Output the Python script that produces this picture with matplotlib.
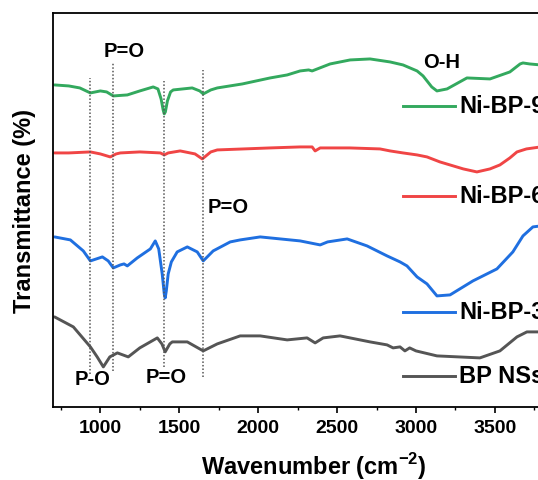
import matplotlib
matplotlib.use("Agg")
import matplotlib.pyplot as plt
import numpy as np

plt.rcParams["font.family"] = ["Liberation Sans", "DejaVu Sans"]
plt.rcParams["font.weight"] = "bold"
plt.rcParams["mathtext.fontset"] = "custom"
plt.rcParams["mathtext.bf"] = "Liberation Sans:bold"
plt.rcParams["mathtext.rm"] = "Liberation Sans:bold"

# FTIR traces (transmittance in arbitrary offset units)
wn_90 = [710, 800, 870, 937, 1000, 1040, 1082, 1171, 1250, 1335, 1365, 1385, 1398, 1405, 1412, 1425,
         1445, 1462, 1582, 1630, 1652, 1700, 1741, 1900, 2076, 2184, 2266, 2320, 2342, 2456, 2583,
         2709, 2836, 2918, 3007, 3045, 3100, 3133, 3197, 3323, 3469, 3595, 3660, 3678, 3720, 3790]
t_90 = [334, 333, 331, 326, 328, 327, 323, 324, 328, 332, 330, 320, 309, 305, 307, 318,
        327, 329, 331, 328, 325, 329, 331, 335, 341, 344, 348, 349, 348, 355, 359,
        360, 357, 354, 348, 343, 332, 328, 330, 341, 340, 347, 355, 356, 355, 354]

wn_60 = [710, 800, 937, 1000, 1063, 1100, 1127, 1250, 1380, 1405, 1430, 1506, 1600, 1646, 1700,
         1741, 2076, 2266, 2342, 2361, 2393, 2580, 2772, 2836, 2918, 3007, 3070, 3152, 3300,
         3386, 3469, 3532, 3595, 3640, 3700, 3790]
t_60 = [266, 266, 267, 265, 262, 265, 266, 267, 266, 264, 266, 268, 265, 260, 267,
        269, 271, 272, 272, 268, 271, 271, 270, 268, 266, 264, 262, 257, 250,
        247, 250, 254, 261, 267, 270, 272]

wn_30 = [710, 810, 892, 937, 1013, 1050, 1082, 1127, 1150, 1171, 1234, 1317, 1348, 1370, 1392,
         1405, 1411, 1418, 1430, 1450, 1487, 1551, 1614, 1652, 1715, 1823, 1886, 2013, 2266, 2361,
         2393, 2440, 2564, 2690, 2817, 2899, 2943, 3007, 3070, 3133, 3216, 3361, 3513, 3614,
         3678, 3741, 3790]
t_30 = [182, 179, 168, 158, 162, 158, 151, 154, 155, 153, 161, 170, 178, 170, 145,
        125, 121, 128, 145, 157, 167, 172, 167, 158, 168, 177, 179, 182, 178, 175,
        174, 177, 180, 173, 163, 157, 153, 142, 135, 123, 124, 138, 150, 167,
        183, 192, 193]

wn_bp = [710, 829, 937, 980, 1019, 1060, 1108, 1177, 1250, 1361, 1390, 1411, 1440, 1456, 1551,
         1652, 1741, 1886, 2013, 2184, 2310, 2361, 2412, 2519, 2709, 2817, 2855, 2899, 2930,
         2960, 3000, 3133, 3405, 3532, 3640, 3703, 3790]
t_bp = [102, 92, 72, 62, 52, 62, 66, 62, 71, 81, 75, 67, 75, 77, 77,
        68, 75, 83, 83, 79, 81, 76, 81, 83, 77, 74, 71, 72, 68,
        71, 68, 63, 61, 68, 82, 87, 87]

series = [("Ni-BP-9", wn_90, t_90, "#33a95e"),
          ("Ni-BP-6", wn_60, t_60, "#f04545"),
          ("Ni-BP-3", wn_30, t_30, "#1f6fe0"),
          ("BP NSs", wn_bp, t_bp, "#555555")]

# dotted guide lines: (wavenumber, y bottom, y top)
guides = [(937, 45, 341), (1082, 48, 356), (1405, 52, 338), (1652, 42, 349)]

fig = plt.figure(figsize=(5.38, 4.81), dpi=100)
ax = fig.add_axes([0.0985, 0.152, 0.968, 0.819])

for lab, x, y, c in series:
    ax.plot(x, y, color=c, lw=2.1, solid_capstyle="round", solid_joinstyle="round")

for g, y0, y1 in guides:
    ax.plot([g, g], [y0, y1], ls=(0, (1, 1.3)), color="#555555", lw=1.1)

ax.text(1152, 368, "P=O", fontsize=14.5, fontweight="bold", ha="center", va="center")
ax.text(1810, 212, "P=O", fontsize=14.5, fontweight="bold", ha="center", va="center")
ax.text(3165, 357, "O-H", fontsize=14.5, fontweight="bold", ha="center", va="center")
ax.text(950, 40, "P-O", fontsize=14.5, fontweight="bold", ha="center", va="center")
ax.text(1418, 42, "P=O", fontsize=14.5, fontweight="bold", ha="center", va="center")

# hand-placed legend entries (the source figure is cropped on the right)
leg_y = [313, 223, 107, 43]
for (lab, x, y, c), ly in zip(series, leg_y):
    ax.plot([2918, 3247], [ly, ly], color=c, lw=2.1)
    ax.text(3275, ly, lab, fontsize=17, fontweight="bold", va="center", ha="left")

ax.set_xlim(700, 4000)
ax.set_ylim(12, 406)
ax.set_xticks(np.arange(1000, 3501, 500))
ax.set_xticks(np.arange(750, 3800, 250), minor=True)
ax.set_yticks([])
ax.tick_params(axis="x", which="major", direction="out", length=4, width=1.2, labelsize=14, pad=5)
ax.tick_params(axis="x", which="minor", direction="out", length=2.5, width=1.0)
for lbl in ax.get_xticklabels():
    lbl.set_fontweight("bold")
for sp in ax.spines.values():
    sp.set_linewidth(1.3)

ax.set_xlabel("Wavenumber (cm$^{\\mathbf{-2}}$)", fontsize=17, fontweight="bold", labelpad=10)
ax.set_ylabel("Transmittance (%)", fontsize=17, fontweight="bold", labelpad=12)

fig.savefig("out.png", dpi=100)
